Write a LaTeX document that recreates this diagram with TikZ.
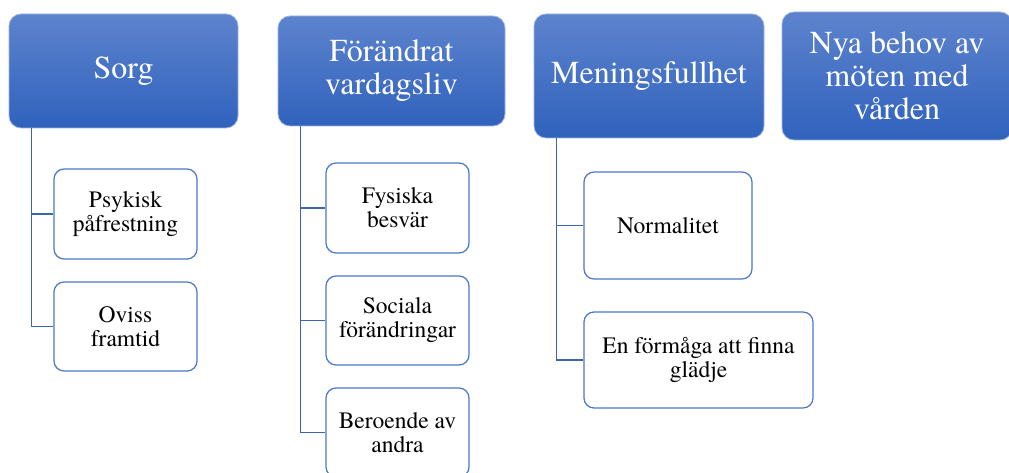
\documentclass[tikz,border=0pt]{standalone}
\usepackage{fontspec}
\setmainfont{TeX Gyre Termes}
\definecolor{hdrtop}{HTML}{5D83CD}
\definecolor{hdrbot}{HTML}{3062BD}
\definecolor{boxline}{HTML}{4A78C8}
\definecolor{connline}{HTML}{3D64AE}
\tikzset{
  header/.style={rounded corners=12pt, top color=hdrtop, bottom color=hdrbot,
    draw=hdrtop!60!white, line width=0.8pt, inner sep=0pt, align=center,
    text=white, font=\rmfamily\fontsize{32}{33}\selectfont},
  child/.style={rounded corners=10pt, fill=white, draw=boxline, line width=1.2pt,
    inner sep=0pt, align=center, text=black, font=\rmfamily\fontsize{23.5}{24}\selectfont},
  conn/.style={draw=connline, line width=1.6pt}
}
\begin{document}
\begin{tikzpicture}[x=1pt,y=-1pt]
\clip (0,0) rectangle (1009,473);
\fill[white] (0,0) rectangle (1009,473);
% headers
\node[header, minimum width=229pt, minimum height=114pt] (h1) at (123.5,71) {Sorg};
\node[header, minimum width=227pt, minimum height=110pt] (h2) at (391.5,71) {Förändrat\\vardagsliv};
\node[header, minimum width=230pt, minimum height=124pt] (h3) at (649,76) {Meningsfullhet};
\node[header, minimum width=230pt, minimum height=128pt] (h4) at (897,76) {Nya behov av\\möten med\\vården};
% children
\node[child, minimum width=143pt, minimum height=90pt] (c11) at (125.5,214) {Psykisk\\påfrestning};
\node[child, minimum width=143pt, minimum height=89pt] (c12) at (125.5,326.5) {Oviss\\framtid};
\node[child, minimum width=143pt, minimum height=90pt] (c21) at (397.5,208) {Fysiska\\besvär};
\node[child, minimum width=143pt, minimum height=89pt] (c22) at (397.5,320.5) {Sociala\\förändringar};
\node[child, minimum width=143pt, minimum height=89pt] (c23) at (397.5,432.5) {Beroende av\\andra};
\node[child, minimum width=168pt, minimum height=107pt] (c31) at (668,225.5) {Normalitet};
\node[child, minimum width=229pt, minimum height=96pt] (c32) at (698.5,360) {En förmåga att finna\\glädje};
% connectors
\coordinate (s1) at ([xshift=23pt]h1.south west);
\coordinate (s2) at ([xshift=23pt]h2.south west);
\coordinate (s3) at ([xshift=23pt]h3.south west);
\draw[conn] (s1) |- (c11.west);
\draw[conn] (s1) |- (c12.west);
\draw[conn] (s2) |- (c21.west);
\draw[conn] (s2) |- (c22.west);
\draw[conn] (s2) |- (c23.west);
\draw[conn] (s3) |- (c31.west);
\draw[conn] (s3) |- (c32.west);
\end{tikzpicture}
\end{document}
